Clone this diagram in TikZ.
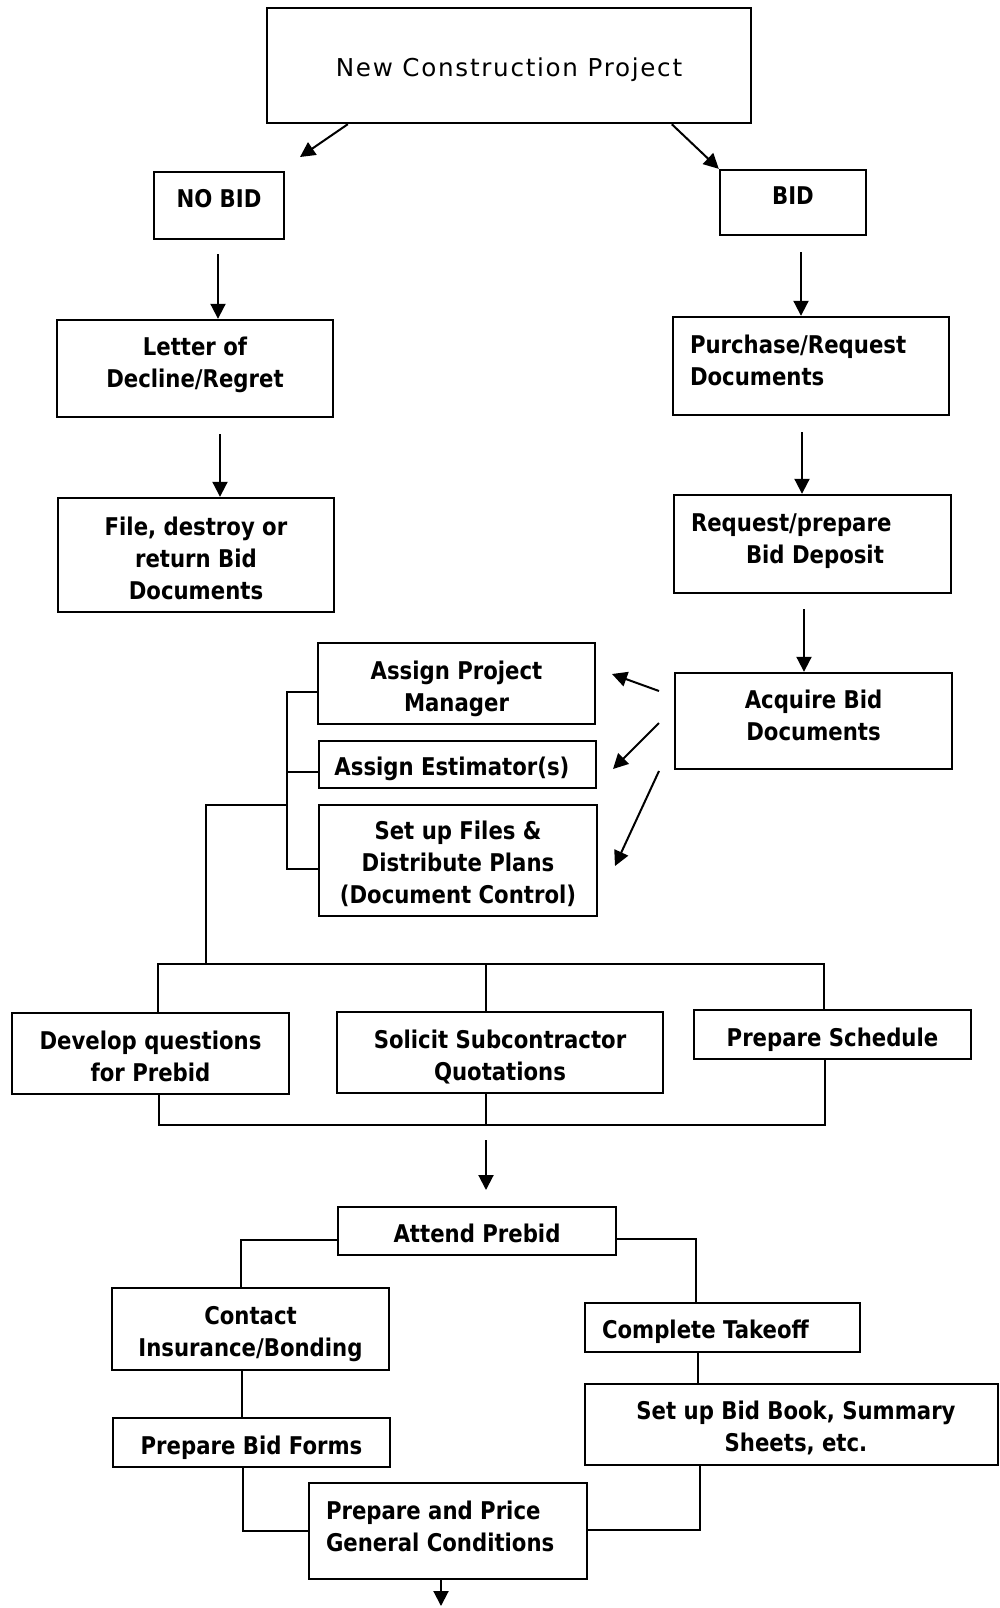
\documentclass[tikz,border=0pt]{standalone}
\usepackage{fontspec}
\setmainfont{DejaVu Sans}[FakeStretch=0.87]
\newfontfamily\topfont{DejaVu Sans}[LetterSpace=7]
\usetikzlibrary{arrows.meta,calc}
% text block: raised by #2, zero height for centring on the node centre
\newcommand\tx[3][c]{\smash{\raisebox{#2}{\begin{tabular}{@{}#1@{}}#3\end{tabular}}}}
\begin{document}
\begin{tikzpicture}[x=0.5pt,y=-0.5pt,
  box/.style={draw,line width=1.2pt,inner sep=0pt,
    font=\fontsize{12.2}{16}\selectfont\bfseries},
  conn/.style={line width=1pt},
  arr/.style={line width=1pt,-{Triangle[length=7.5pt,width=7.5pt]}}]
\useasboundingbox (0,0) rectangle (1000,1608);

% boxes
\node[box,minimum width=242pt,minimum height=57.5pt,font=\fontsize{12.3}{16}\selectfont\topfont] (top) at (509,65.5) {\tx{-5.15pt}{New Construction Project}};
\node[box,minimum width=65pt,minimum height=33.5pt] (nobid) at (219,205.5) {\tx{-0.8pt}{NO BID}};
\node[box,minimum width=73pt,minimum height=32.5pt] (bid) at (793,202.5) {\tx{-0.75pt}{BID}};
\node[box,minimum width=138pt,minimum height=48.5pt] (letter) at (195,368.5) {\tx{-1.35pt}{Letter of\\Decline/Regret}};
\node[box,minimum width=138pt,minimum height=57pt] (file) at (196,555) {\tx{-6.05pt}{File, destroy or\\return Bid\\Documents}};
\node[box,minimum width=138pt,minimum height=49pt] (purchase) at (811,366) {\makebox[121pt][l]{\tx[l]{-1.55pt}{Purchase/Request\\Documents}}};
\node[box,minimum width=138.5pt,minimum height=49pt] (request) at (812.5,544) {\makebox[121.5pt][l]{\tx[l]{-1.55pt}{Request/prepare\\\hspace*{27.5pt}Bid Deposit}}};
\node[box,minimum width=138.5pt,minimum height=48pt] (acquire) at (813.5,721) {\tx{-1.75pt}{Acquire Bid\\Documents}};
\node[box,minimum width=138.5pt,minimum height=40.5pt] (pm) at (456.5,683.5) {\tx{-5.6pt}{Assign Project\\Manager}};
\node[box,minimum width=138.5pt,minimum height=23.5pt] (est) at (457.5,764.5) {\tx{-5.35pt}{Assign Estimator(s)}\hspace*{5.6pt}};
\node[box,minimum width=139pt,minimum height=55.5pt] (files) at (458,860.5) {\tx{-5.05pt}{Set up Files \&\\Distribute Plans\\(Document Control)}};
\node[box,minimum width=138.5pt,minimum height=40.5pt] (develop) at (150.5,1053.5) {\tx{-5.75pt}{Develop questions\\for Prebid}};
\node[box,minimum width=163pt,minimum height=40.5pt] (solicit) at (500,1052.5) {\tx{-5.75pt}{Solicit Subcontractor\\Quotations}};
\node[box,minimum width=138.5pt,minimum height=24.5pt] (schedule) at (832.5,1034.5) {\tx{-5.75pt}{Prepare Schedule}};
\node[box,minimum width=139pt,minimum height=24pt] (attend) at (477,1231) {\tx{-5.45pt}{Attend Prebid}};
\node[box,minimum width=138.5pt,minimum height=41pt] (contact) at (250.5,1329) {\tx{-5.4pt}{Contact\\Insurance/Bonding}};
\node[box,minimum width=138.5pt,minimum height=24.5pt] (bidforms) at (251.5,1442.5) {\tx{-5.85pt}{Prepare Bid Forms}};
\node[box,minimum width=139pt,minimum height=48pt] (price) at (448,1531) {\makebox[122pt][l]{\tx[l]{-1.85pt}{Prepare and Price\\General Conditions}}};
\node[box,minimum width=137.5pt,minimum height=24.5pt] (takeoff) at (722.5,1327.5) {\makebox[120.5pt][l]{\tx[l]{-5.4pt}{Complete Takeoff}}};
\node[box,minimum width=206.5pt,minimum height=40.5pt] (bidbook) at (791.5,1424.5) {\hspace*{4.5pt}\tx{-5.35pt}{Set up Bid Book, Summary\\Sheets, etc.}};

% top arrows
\coordinate (a1) at (300,157);
\draw[arr] ($(top.south west)+(82,0)$) -- (a1);
\draw[arr] ($(top.south west)+(406,0)$) -- (bid.north west);

% vertical arrows
\coordinate (s2) at (218,254);
\draw[arr] (s2) -- (s2 |- letter.north);
\coordinate (s3) at (220,434);
\draw[arr] (s3) -- (s3 |- file.north);
\coordinate (s4) at (801,252);
\draw[arr] (s4) -- (s4 |- purchase.north);
\coordinate (s5) at (802,432);
\draw[arr] (s5) -- (s5 |- request.north);
\coordinate (s6) at (804,609);
\draw[arr] (s6) -- (s6 |- acquire.north);

% arrows from acquire
\coordinate (q1) at (659,691); \coordinate (q1e) at (612,674);
\coordinate (q2) at (659,723); \coordinate (q2e) at (613,769);
\coordinate (q3) at (659,771); \coordinate (q3e) at (615,866);
\draw[arr] (q1) -- (q1e);
\draw[arr] (q2) -- (q2e);
\draw[arr] (q3) -- (q3e);

% bracket
\coordinate (bt) at (287,692);
\coordinate (bm) at (287,772);
\coordinate (bb) at (287,869);
\coordinate (bj) at (287,805);
\coordinate (bk) at (206,964);
\draw[conn] (bt -| pm.west) -- (bt) -- (bb) -- (bb -| files.west);
\draw[conn] (bm) -- (bm -| est.west);
\draw[conn] (bj) -| (bk);

% top bus
\coordinate (t1) at (158,964);
\coordinate (t2) at (486,964);
\coordinate (t3) at (824,964);
\draw[conn] (t1 |- develop.north) -- (t1) -- (t3) -- (t3 |- schedule.north);
\draw[conn] (t2) -- (t2 |- solicit.north);

% bottom bus
\coordinate (u1) at (159,1125);
\coordinate (u2) at (486,1125);
\coordinate (u3) at (825,1125);
\draw[conn] (u1 |- develop.south) -- (u1) -- (u3) -- (u3 |- schedule.south);
\draw[conn] (u2) -- (u2 |- solicit.south);

\coordinate (v1) at (486,1140); \coordinate (v2) at (486,1190);
\draw[arr] (v1) -- (v2);

% lower left
\coordinate (l1) at (241,1240);
\draw[conn] (l1 -| attend.west) -- (l1) -- (l1 |- contact.north);
\coordinate (l2) at (242,1400);
\draw[conn] (l2 |- contact.south) -- (l2 |- bidforms.north);
\coordinate (l3) at (243,1531);
\draw[conn] (l3 |- bidforms.south) -- (l3) -- (l3 -| price.west);

% lower right
\coordinate (r1) at (696,1239);
\draw[conn] (r1 -| attend.east) -- (r1) -- (r1 |- takeoff.north);
\coordinate (r2) at (698,1370);
\draw[conn] (r2 |- takeoff.south) -- (r2 |- bidbook.north);
\coordinate (r3) at (700,1530);
\draw[conn] (r3 |- bidbook.south) -- (r3) -- (r3 -| price.east);

% final arrow
\coordinate (fe) at (441,1606);
\draw[arr] (fe |- price.south) -- (fe);
\end{tikzpicture}
\end{document}
